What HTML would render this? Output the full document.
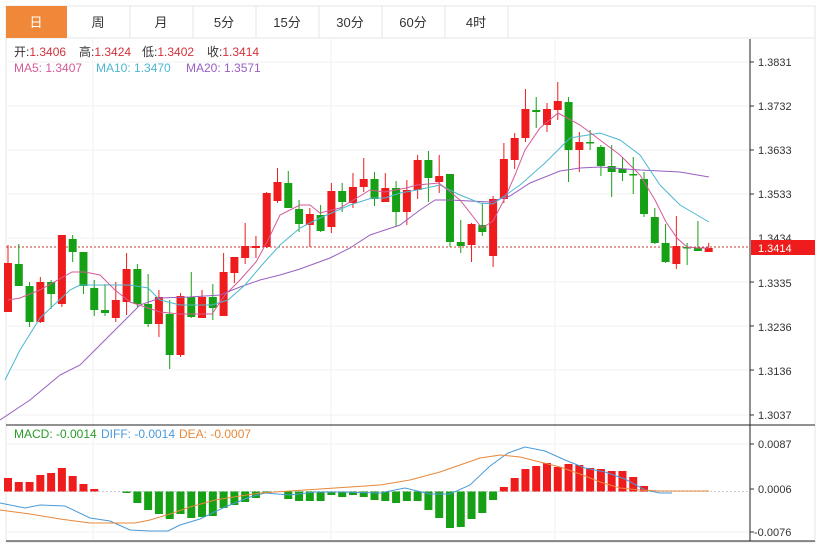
<!DOCTYPE html>
<html><head><meta charset="utf-8"><style>
body{margin:0;background:#fff;width:820px;height:544px;overflow:hidden;font-family:"Liberation Sans","Noto Sans CJK SC",sans-serif}
</style></head><body>
<svg id="s" width="820" height="544" xmlns="http://www.w3.org/2000/svg" style="position:absolute;left:0;top:0">
<rect x="6" y="6" width="809" height="536" fill="none" stroke="#e4e4e4"/>
<line x1="6" y1="38" x2="815" y2="38" stroke="#e4e4e4"/>
<rect x="6" y="6" width="61" height="32" fill="#f0883a"/>
<g stroke="#e4e4e4">
<line x1="130" y1="6" x2="130" y2="38"/><line x1="193" y1="6" x2="193" y2="38"/><line x1="256" y1="6" x2="256" y2="38"/><line x1="319" y1="6" x2="319" y2="38"/><line x1="382" y1="6" x2="382" y2="38"/><line x1="445" y1="6" x2="445" y2="38"/><line x1="508" y1="6" x2="508" y2="38"/>
</g>
<g font-size="13" text-anchor="middle" fill="#333">
<text x="36" y="27" fill="#fff">日</text><text x="98" y="27">周</text><text x="161" y="27">月</text><text x="224" y="27">5分</text><text x="287" y="27">15分</text><text x="350" y="27">30分</text><text x="413" y="27">60分</text><text x="476" y="27">4时</text>
</g>
<g stroke="#f0f0f0">
<line x1="6" y1="62" x2="750" y2="62"/><line x1="6" y1="106" x2="750" y2="106"/><line x1="6" y1="150" x2="750" y2="150"/><line x1="6" y1="194" x2="750" y2="194"/><line x1="6" y1="238" x2="750" y2="238"/><line x1="6" y1="282" x2="750" y2="282"/><line x1="6" y1="326" x2="750" y2="326"/><line x1="6" y1="370" x2="750" y2="370"/><line x1="6" y1="415" x2="750" y2="415"/>
<line x1="93" y1="39" x2="93" y2="541"/><line x1="331" y1="39" x2="331" y2="541"/><line x1="555" y1="39" x2="555" y2="541"/>
<line x1="6" y1="444" x2="750" y2="444"/><line x1="6" y1="532" x2="750" y2="532"/>
</g>
<line x1="6" y1="425" x2="815" y2="425" stroke="#222"/>
<line x1="6" y1="541" x2="815" y2="541" stroke="#222"/>
<line x1="750" y1="39" x2="750" y2="541" stroke="#222"/>
<g font-size="11" fill="#333">
<text x="758" y="66">1.3831</text><text x="758" y="110">1.3732</text><text x="758" y="154">1.3633</text><text x="758" y="198">1.3533</text><text x="758" y="242">1.3434</text><text x="758" y="287">1.3335</text><text x="758" y="331">1.3236</text><text x="758" y="375">1.3136</text><text x="758" y="419">1.3037</text>
<text x="758" y="448">0.0087</text><text x="758" y="493">0.0006</text><text x="754" y="536">-0.0076</text>
</g>
<g stroke="#333"><line x1="750" y1="62" x2="754" y2="62"/><line x1="750" y1="106" x2="754" y2="106"/><line x1="750" y1="150" x2="754" y2="150"/><line x1="750" y1="194" x2="754" y2="194"/><line x1="750" y1="282" x2="754" y2="282"/><line x1="750" y1="326" x2="754" y2="326"/><line x1="750" y1="370" x2="754" y2="370"/><line x1="750" y1="415" x2="754" y2="415"/><line x1="750" y1="444" x2="754" y2="444"/><line x1="750" y1="489" x2="754" y2="489"/><line x1="750" y1="532" x2="754" y2="532"/></g>
<line x1="6" y1="247" x2="750" y2="247" stroke="#c0392b" stroke-dasharray="2,2"/>
<line x1="6" y1="491.5" x2="750" y2="491.5" stroke="#ccd" stroke-dasharray="2,2"/>
<rect x="751" y="240" width="64" height="15" fill="#ee1c1c"/>
<text x="758" y="252" font-size="11" fill="#fff">1.3414</text>
<g id="c"></g>
<g font-size="12">
<text x="14" y="56" fill="#333">开:<tspan fill="#d0323a">1.3406</tspan></text>
<text x="79" y="56" fill="#333">高:<tspan fill="#d0323a">1.3424</tspan></text>
<text x="142" y="56" fill="#333">低:<tspan fill="#d0323a">1.3402</tspan></text>
<text x="207" y="56" fill="#333">收:<tspan fill="#d0323a">1.3414</tspan></text>
<text x="14" y="72" fill="#d45a9a">MA5: 1.3407</text>
<text x="96" y="72" fill="#4db8d0">MA10: 1.3470</text>
<text x="186" y="72" fill="#9a5fc0">MA20: 1.3571</text>
<text x="14" y="438" fill="#2a9a2a">MACD: -0.0014</text>
<text x="101" y="438" fill="#4a9ad8">DIFF: -0.0014</text>
<text x="179" y="438" fill="#e8883a">DEA: -0.0007</text>
</g>
</svg>
<script>
var c=[[263,312,245,312,1],[264,286,244,286,0],[286,322,282,327,0],[282,322,277,323,1],[282,294,280,309,0],[235,304,235,307,1],[239,252,235,262,0],[252,286,252,294,0],[288,310,280,316,0],[310,313,284,316,0],[300,318,282,322,1],[269,302,253,315,1],[269,304,264,307,0],[304,324,274,327,0],[297,324,290,337,1],[314,355,300,369,0],[296,355,293,357,1],[297,317,272,318,0],[297,318,290,318,1],[297,308,284,320,0],[272,316,253,316,1],[257,273,257,283,1],[246,258,223,264,1],[246,248,236,258,1],[193,247,192,248,1],[182,201,168,203,1],[183,208,171,208,0],[209,224,200,232,0],[214,225,208,247,1],[215,231,205,232,0],[191,227,183,233,1],[191,202,183,212,0],[187,203,173,208,1],[179,187,158,192,1],[179,199,172,206,0],[188,202,173,202,1],[188,212,181,227,0],[190,212,180,225,1],[160,190,155,199,1],[160,178,151,202,0],[176,182,155,193,1],[174,242,174,247,0],[242,246,220,253,0],[224,245,223,262,1],[225,232,203,236,0],[199,256,196,267,1],[159,199,143,203,1],[138,160,133,169,1],[109,138,89,142,1],[110,112,97,128,0],[109,125,103,132,1],[101,110,82,120,1],[102,150,97,182,0],[142,150,132,172,1],[142,143,130,150,0],[147,166,145,176,0],[166,172,145,197,0],[169,173,157,181,0],[174,175,157,194,0],[179,214,172,217,0],[217,243,208,244,0],[243,262,224,263,0],[246,264,216,269,1],[247,248,243,265,0],[248,251,221,251,0],[248,252,243,252,1]];
var h=[478,482,482,475,473,468,476,484,489,492,492,493,503,510,514,519,514,518,517,516,508,505,502,498,493,492,499,501,501,501,495,497,495,497,500,501,503,501,501,510,518,528,527,519,513,500,487,478,469,466,463,467,464,465,468,469,471,471,477,486,491,492,492,492,492,492];
var s='',Z=491.5;
for(var i=0;i<66;i++){var x=8+i*10.78;
var q=c[i],col=q[4]?'#ee1c1c':'#16a016';
s+='<line x1="'+x+'" y1="'+q[2]+'" x2="'+x+'" y2="'+q[3]+'" stroke="'+col+'"/>';
s+='<rect x="'+(x-4)+'" y="'+q[0]+'" width="8" height="'+Math.max(1.5,q[1]-q[0])+'" fill="'+col+'"/>';
var v=h[i];if(Math.abs(v-Z)>1){s+='<rect x="'+(x-4)+'" y="'+Math.min(v,Z)+'" width="8" height="'+Math.abs(v-Z)+'" fill="'+(v<Z?'#ee1c1c':'#16a016')+'"/>';}}
function pl(p,col){return '<polyline fill="none" stroke="'+col+'" stroke-width="1" points="'+p+'"/>';}
s+=pl("0,420 30,400 60,375 80,365 100,345 125,320 140,305 160,298 190,297 220,295 240,287 260,280 280,275 300,269 330,258 350,248 370,235 385,230 400,225 420,210 435,200 450,200 470,201 490,202 510,196 530,183 560,171 580,168 600,167 640,170 680,172 709,177","#9a5fc0");
s+=pl("5,380 20,350 40,318 70,290 80,285 100,285 130,285 148,288 160,300 180,305 212,305 228,300 245,285 262,265 280,245 300,228 320,218 350,205 372,198 385,198 400,193 417,190 440,185 460,195 480,203 493,204 520,185 545,163 570,138 600,133 620,140 640,155 660,185 680,205 709,222","#4db8d0");
s+=pl("8,300 20,298 40,290 72,272 85,272 100,275 115,290 130,302 160,312 180,314 200,314 212,314 225,295 240,280 256,262 268,240 280,215 300,205 310,205 320,213 340,208 370,190 385,192 406,188 417,185 439,183 460,200 482,228 493,221 504,200 515,175 525,150 540,128 558,113 580,125 600,140 620,155 640,175 655,200 666,222 677,238 687,247 698,248 709,248","#d45a9a");
s+=pl("0,503 25,508 40,505 65,506 90,518 110,521 130,530 150,531 168,531 180,525 200,519 225,507 250,497 265,493 290,495 315,492 340,492 380,493 405,488 430,494 450,494 470,485 490,466 508,453 525,447 545,451 565,460 585,468 605,472 625,479 645,490 660,493 672,493","#4a9ad8");
s+=pl("0,510 30,514 60,519 90,523 110,523 135,523 150,520 170,514 190,507 215,500 240,496 260,493 290,491 320,489 350,487 380,485 410,480 440,472 460,465 480,458 500,455 520,457 540,462 560,467 580,474 600,482 620,488 640,490 660,491 709,491","#e8883a");
document.getElementById('c').innerHTML=s;
</script>
</body></html>
